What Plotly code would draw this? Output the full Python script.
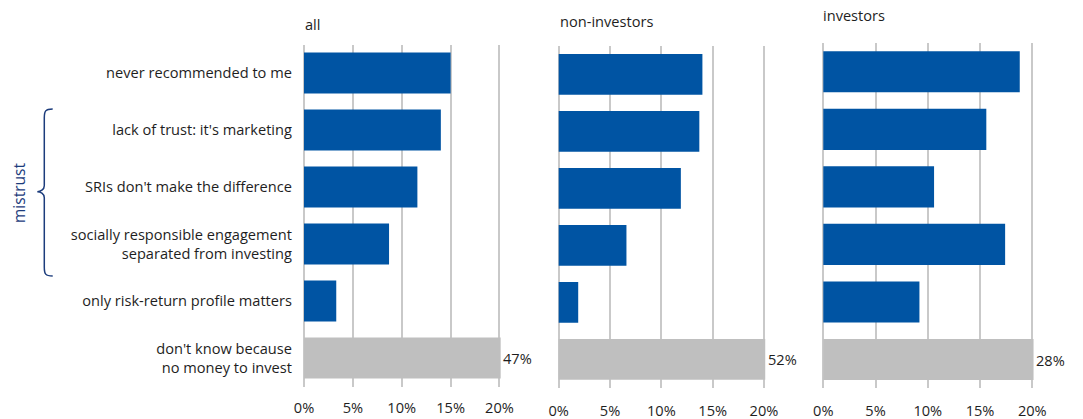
import plotly.graph_objects as go

# Reasons for not investing in socially responsible investments (SRIs)
categories = [
    "never recommended to me",
    "lack of trust: it's marketing",
    "SRIs don't make the difference",
    "socially responsible engagement<br>separated from investing",
    "only risk-return profile matters",
    "don't know because<br>no money to invest",
]
groups = ["all", "non-investors", "investors"]
values_all = [15.0, 14.0, 11.6, 8.7, 3.3, 47]
values_non_investors = [14.0, 13.7, 11.9, 6.6, 1.9, 52]
values_investors = [18.8, 15.6, 10.6, 17.4, 9.2, 28]
series = [values_all, values_non_investors, values_investors]

x_ticks = [0, 5, 10, 15, 20]
x_tick_labels = ["0%", "5%", "10%", "15%", "20%"]

BLUE = "#0054A3"
GREY = "#BFBFBF"
NAVY = "#1C3C7C"
TEXT = "#1E1E1E"
FONT = "Open Sans"
FS = 14.6

W, H = 1083, 419

# plot areas in pixels: (x at 0%, x at 20%, top, bottom)
panels_px = [
    (304.0, 499.5, 44.5, 386.5),
    (558.7, 764.0, 45.8, 388.0),
    (823.3, 1032.3, 43.0, 388.3),
]
title_px = [(305, 24), (560, 21), (823, 15)]
PAD = 0.12  # small range padding so the 0% and 20% grid lines are not clipped


def px_x(x):
    return x / W


def px_y(y):
    return 1 - y / H


fig = go.Figure()

for i, vals in enumerate(series):
    n = i + 1
    suffix = "" if n == 1 else str(n)
    colors = [BLUE] * (len(vals) - 1) + [GREY]
    fig.add_trace(go.Bar(
        x=vals,
        y=categories,
        orientation="h",
        width=0.715,
        marker=dict(color=colors, line=dict(width=0)),
        xaxis="x" + suffix,
        yaxis="y" + suffix,
        hoverinfo="skip",
        showlegend=False,
    ))
    x0, x20, t, b = panels_px[i]
    ppu = (x20 - x0) / 20.0
    fig.layout["xaxis" + suffix] = dict(
        domain=[px_x(x0 - PAD * ppu), px_x(x20 + PAD * ppu)],
        range=[-PAD, 20 + PAD],
        tickvals=x_ticks,
        ticktext=x_tick_labels,
        showgrid=True,
        gridcolor="#C9C9C9",
        gridwidth=2,
        zeroline=False,
        showline=False,
        ticks="outside",
        ticklen=9 - (388 - b),
        tickcolor="rgba(0,0,0,0)",
        tickfont=dict(family=FONT, size=FS, color=TEXT),
        anchor="y" + suffix,
        automargin=False,
        fixedrange=True,
    )
    fig.layout["yaxis" + suffix] = dict(
        domain=[px_y(b), px_y(t)],
        type="category",
        categoryorder="array",
        categoryarray=categories,
        autorange="reversed",
        showgrid=False,
        zeroline=False,
        showline=False,
        showticklabels=(n == 1),
        ticks="outside" if n == 1 else "",
        ticklen=7,
        tickcolor="rgba(0,0,0,0)",
        tickfont=dict(family=FONT, size=FS, color=TEXT),
        anchor="x" + suffix,
        automargin=False,
        fixedrange=True,
    )
    # value label next to the clipped grey bar
    fig.add_annotation(
        x=20, y=categories[-1],
        xref="x" + suffix, yref="y" + suffix,
        text=f"{vals[-1]:g}%",
        showarrow=False,
        xanchor="left", yanchor="middle",
        xshift=2,
        font=dict(family=FONT, size=FS, color=TEXT),
    )
    # panel title
    tx, ty = title_px[i]
    fig.add_annotation(
        x=px_x(tx), y=px_y(ty),
        xref="paper", yref="paper",
        text=groups[i],
        showarrow=False,
        xanchor="left", yanchor="middle",
        xshift=-2,
        font=dict(family=FONT, size=FS, color=TEXT),
    )

# curly brace grouping the three "mistrust" reasons
tip_x, spine_x, cusp_x = 52.7, 44.3, 37.3
top_y, mid_y, bot_y = 109.0, 191.7, 276.0


def P(x, y):
    return f"{px_x(x):.5f},{px_y(y):.5f}"


brace = (
    f"M {P(tip_x, top_y)} "
    f"C {P(spine_x + 1, top_y)} {P(spine_x, top_y + 2)} {P(spine_x, top_y + 9)} "
    f"L {P(spine_x, mid_y - 6)} "
    f"C {P(spine_x, mid_y - 2)} {P(cusp_x + 3, mid_y)} {P(cusp_x, mid_y)} "
    f"C {P(cusp_x + 3, mid_y)} {P(spine_x, mid_y + 2)} {P(spine_x, mid_y + 6)} "
    f"L {P(spine_x, bot_y - 9)} "
    f"C {P(spine_x, bot_y - 2)} {P(spine_x + 1, bot_y)} {P(tip_x, bot_y)}"
)
fig.add_shape(
    type="path", path=brace, xref="paper", yref="paper",
    line=dict(color=NAVY, width=1.5),
)
fig.add_annotation(
    x=px_x(19), y=px_y(193),
    xref="paper", yref="paper",
    text="mistrust",
    textangle=-90,
    showarrow=False,
    xanchor="center", yanchor="middle",
    font=dict(family=FONT, size=15.5, color=NAVY),
)

fig.update_layout(
    width=W, height=H,
    margin=dict(l=0, r=0, t=0, b=0, autoexpand=False),
    paper_bgcolor="white",
    plot_bgcolor="white",
    font=dict(family=FONT, size=FS, color=TEXT),
)

fig.write_html("out.html")
